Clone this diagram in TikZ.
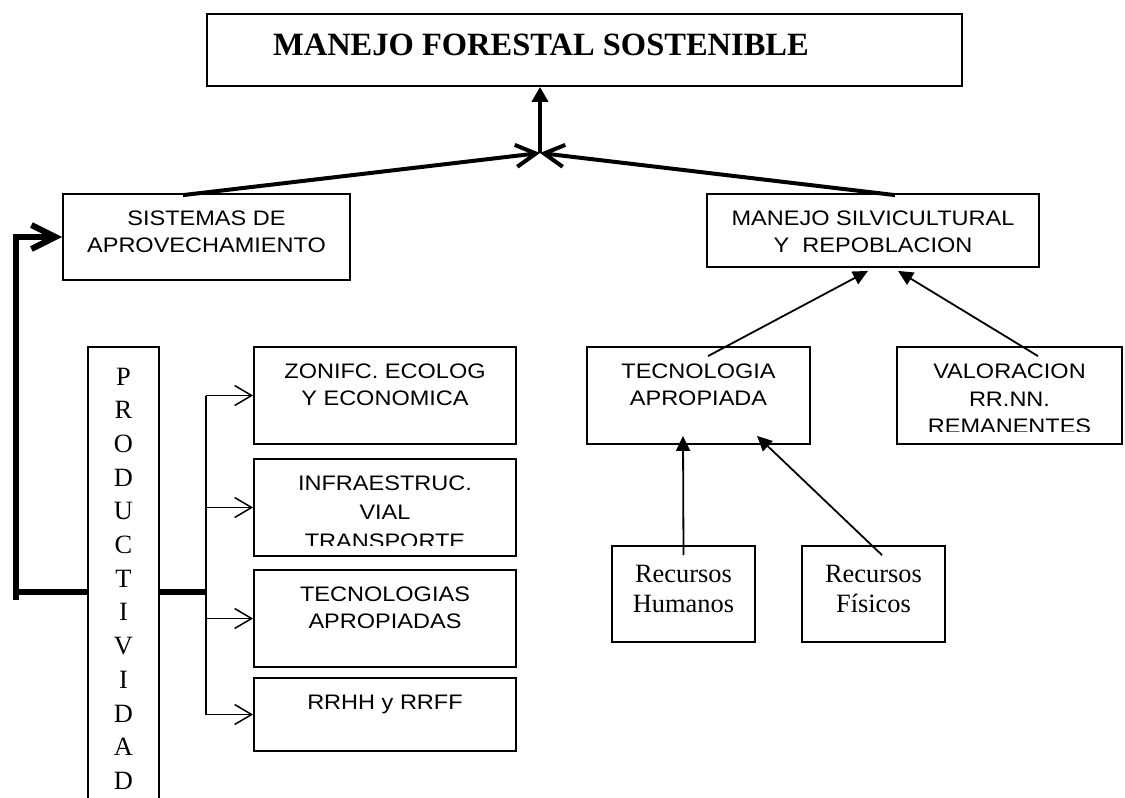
\documentclass[tikz,border=0pt]{standalone}
\usepackage{fontspec}
\setmainfont{Liberation Serif}
\setsansfont{Liberation Sans}[FakeStretch = 1.12]
\usepackage{tikz}
\usetikzlibrary{arrows.meta}
\usetikzlibrary{positioning}
\tikzset{caja/.style = {draw, rectangle, line width = 1.8pt, inner sep = 0}}
\tikzset{txtsans/.style = {font = \sffamily\fontsize{21}{27.5}\selectfont, align = center, inner sep = 0}}
\tikzset{txtserif/.style = {font = \fontsize{26.4}{30}\selectfont, align = center, inner sep = 0}}
\tikzset{gruesa/.style = {line width = 6pt}}
\tikzset{flecha/.style = {line width = 1.8pt, -{Triangle[length = 15pt, width = 14pt]}}}
\tikzset{abierta/.style = {line width = 1.5pt, -{Straight Barb[length = 17pt, width = 20pt]}}}

\begin{document}
\begin{tikzpicture}[x = 1pt, y = -1pt]
        \useasboundingbox (0, 0) rectangle (1125, 798);
        \clip (0, 0) rectangle (1125, 798);
        \node [caja, minimum width = 755pt, minimum height = 72pt] (titulo) at (584.5, 50) {};
        \node [anchor = base, inner sep = 0, font = \bfseries\fontsize{32.5}{38}\selectfont] (titulo-t) at (541, 55) {MANEJO FORESTAL SOSTENIBLE};
        \coordinate (union) at (540, 153);
        \node [caja, minimum width = 287pt, minimum height = 86pt] (sistemas) at (206.5, 237) {};
        \node [txtsans, below = 17.5pt of sistemas.north] (sistemas-t) {SISTEMAS DE\\APROVECHAMIENTO};
        \node [caja, minimum width = 332pt, minimum height = 73pt] (silvic) at (873, 230.5) {};
        \node [txtsans, below = 17.5pt of silvic.north] (silvic-t) {MANEJO SILVICULTURAL\\Y\ \ REPOBLACION};
        \node [caja, minimum width = 71pt, minimum height = 470pt] (prod) at (123.5, 582) {};
        \node [inner sep = 0, align = center, font = \fontsize{26.4}{33.7}\selectfont, below = 21.5pt of prod.north] (prod-t) {P\\R\\O\\D\\U\\C\\T\\I\\V\\I\\D\\A\\D};
        \node [caja, minimum width = 262pt, minimum height = 97pt] (zonifc) at (385, 395.5) {};
        \node [txtsans, below = 17.5pt of zonifc.north] (zonifc-t) {ZONIFC. ECOLOG\\Y ECONOMICA};
        \node [caja, minimum width = 262pt, minimum height = 97pt] (infra) at (385, 507.5) {};
        \begin{scope}
          \clip ([yshift = 11pt]infra.south west) rectangle (infra.north east);
          \node [txtsans, font = \sffamily\fontsize{21}{29}\selectfont, below = 17.5pt of infra.north] (infra-t) {INFRAESTRUC.\\VIAL\\TRANSPORTE};
        \end{scope}
        \node [caja, minimum width = 262pt, minimum height = 97pt] (tecs) at (385, 618.5) {};
        \node [txtsans, below = 17.5pt of tecs.north] (tecs-t) {TECNOLOGIAS\\APROPIADAS};
        \node [caja, minimum width = 262pt, minimum height = 73pt] (rrhh) at (385, 714.5) {};
        \node [txtsans, below = 17.5pt of rrhh.north] (rrhh-t) {RRHH y RRFF};
        \node [caja, minimum width = 223pt, minimum height = 97pt] (tecno) at (698.5, 395.5) {};
        \node [txtsans, below = 17.5pt of tecno.north] (tecno-t) {TECNOLOGIA\\APROPIADA};
        \node [caja, minimum width = 225pt, minimum height = 97pt] (valor) at (1009.5, 395.5) {};
        \begin{scope}
          \clip ([yshift = 13pt]valor.south west) rectangle (valor.north east);
          \node [txtsans, below = 18pt of valor.north] (valor-t) {VALORACION\\RR.NN.\\REMANENTES};
        \end{scope}
        \node [caja, minimum width = 143pt, minimum height = 96pt] (humanos) at (683.5, 594) {};
        \node [txtserif, below = 19.5pt of humanos.north] (humanos-t) {Recursos\\Humanos};
        \node [caja, minimum width = 143pt, minimum height = 96pt] (fisicos) at (873.5, 594) {};
        \node [txtserif, below = 19.5pt of fisicos.north] (fisicos-t) {Recursos\\Físicos};

        \draw [line width = 4pt, -{Straight Barb[length = 20pt, width = 22pt]}] ([xshift = -23.5pt, yshift = -2pt]sistemas.north) -- (union);
        \draw [line width = 4pt, -{Straight Barb[length = 20pt, width = 22pt]}] ([xshift = 22pt, yshift = -2pt]silvic.north) -- (union);
        \draw [line width = 4pt, -{Triangle[length = 15pt, width = 16pt]}] (union) -- (union |- titulo.south);

        \coordinate (pie) at (16, 600);
        \coordinate (codo) at (16, 592);
        \coordinate (eje) at (206, 592);
        \draw [gruesa] (prod.west |- codo) -- (codo);
        \draw [gruesa, -{Straight Barb[length = 24pt, width = 24pt]}] (pie) |- (sistemas.west);
        \draw [gruesa] (prod.east |- eje) -- (eje);
        \draw [line width = 1.5pt] (eje |- zonifc.west) -- (eje |- rrhh.west);
        \draw [abierta] (eje |- zonifc.west) -- (zonifc.west);
        \draw [abierta] (eje |- infra.west) -- (infra.west);
        \draw [abierta] (eje |- tecs.west) -- (tecs.west);
        \draw [abierta] (eje |- rrhh.west) -- (rrhh.west);

        \draw [flecha] ([xshift = 9.5pt, yshift = -10pt]tecno.north) -- ([xshift = -5pt, yshift = -3pt]silvic.south);
        \draw [flecha] ([xshift = 28.5pt, yshift = -10pt]valor.north) -- ([xshift = 25pt, yshift = -3pt]silvic.south);
        \draw [flecha] ([yshift = -10pt]humanos.north) -- ([xshift = -15.5pt, yshift = 9pt]tecno.south);
        \draw [flecha] ([xshift = 8.5pt, yshift = -10pt]fisicos.north) -- ([xshift = 58.5pt, yshift = 9pt]tecno.south);
      \end{tikzpicture}
\end{document}
